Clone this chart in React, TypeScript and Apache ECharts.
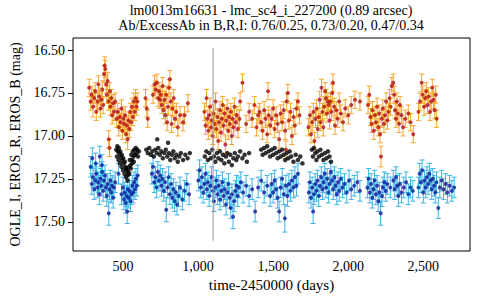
import React, { useEffect, useRef } from "react";
import * as echarts from "echarts";

// EROS_B band (red points, orange error bars): [day, mag, err?]
const bandB: number[][] = [
  [275,16.72],[285,16.80],[292,16.76],[300,16.83,0.06],[308,16.78],[315,16.74],[322,16.86],[330,16.80],[336,16.70],[342,16.77],[350,16.84],[356,16.79],[362,16.73],[368,16.82],[374,16.64],[378,16.59],[382,16.61],[388,16.70],[392,16.76],[398,16.68],[404,16.80],[405,17.02],[410,17.07],[412,16.74],[416,16.83],[422,16.78],[428,16.88],[434,16.81],[440,16.86],[448,16.80],
  [458,16.90],[465,16.86],[472,16.95],[478,16.89],[484,16.92],[490,16.84],[496,16.97],[502,16.90],[508,16.93],[514,16.88],[520,16.99],[526,16.94],[531,17.02,0.06],[536,16.91],[542,16.96],[548,16.86],[554,16.92],[560,16.83],[566,16.89],[572,16.80],[578,16.86],[584,16.78],[590,16.83],[596,16.80],
  [650,16.78],[658,16.84],[665,16.90],[700,16.76],[710,16.70],[718,16.73],[726,16.69],[734,16.78],[740,16.74],[746,16.79],[752,16.76],[758,16.82],[764,16.71],[770,16.85],[776,16.79],[782,16.88],[788,16.76],[794,16.92],[800,16.83],[806,16.72],[812,16.67],[818,16.80],[824,16.93],[830,16.84],[838,16.78],[846,16.90],[855,16.86],[865,16.95],[880,16.88],[900,16.92],[910,16.88],[932,16.81],
  [1042,16.86],[1050,16.94],[1056,16.78],[1062,16.90],[1068,16.97],[1074,16.88],[1080,16.83],[1086,16.95],[1092,16.91],[1098,17.00],[1104,16.87],[1110,16.93],[1116,16.80],[1122,16.96],[1128,16.89],[1134,17.03],[1140,16.92],[1146,16.85],[1152,16.98],[1158,16.90],[1164,16.82],[1170,16.94],[1176,16.87],[1182,17.05],[1188,16.91],[1194,16.84],[1200,16.97],[1206,16.89],[1212,16.93],[1218,16.86],[1224,17.00],[1230,16.90],[1236,16.95],[1242,16.83],[1250,16.92],[1258,16.88],[1266,16.96],[1275,16.90],[1280,16.80],[1296,16.69],[1320,16.93],[1340,16.86],[1360,16.90],[1375,16.82],[1390,16.95],[1400,16.88],[1410,16.86],[1420,16.92],[1430,16.97],[1440,16.85],[1450,16.90],[1460,16.99],[1466,16.74],[1470,16.88],[1480,16.94],
  [1490,16.90],[1500,16.84],[1510,16.96],[1520,16.88],[1530,16.93],[1540,17.02],[1550,16.87],[1560,16.92],[1570,16.85],[1580,16.97],[1585,17.08],[1590,16.80],[1598,16.75],[1605,16.91],[1615,16.86],[1625,17.00],[1635,16.89],[1645,16.94],[1655,16.84],[1665,16.80],[1675,16.88],
  [1735,16.95],[1745,16.88],[1752,16.99],[1760,16.92],[1768,16.86],[1775,17.03],[1782,16.90],[1790,16.84],[1797,16.96],[1804,16.89],[1810,16.79],[1816,16.92],[1822,16.72],[1828,16.86],[1834,16.95],[1840,16.83],[1846,16.74],[1852,16.78],[1858,16.87],[1864,16.80],[1870,16.82],[1876,16.91],[1882,16.80],[1888,16.86],[1894,16.75],[1898,16.69],[1906,16.83],[1912,16.94],[1920,16.85],[1930,16.90],[1940,16.80],[1950,16.87],[1965,16.92],[1980,16.84],[2000,16.88],[2020,16.82],[2045,16.79],[2078,16.80],
  [2132,16.82],[2140,16.76],[2148,16.89],[2155,16.93],[2162,16.85],[2170,16.97],[2178,16.88],[2185,16.92],[2192,16.83],[2200,16.95],[2206,16.87],[2212,16.99],[2218,17.12,0.06],[2224,16.90],[2230,16.84],[2238,16.93],[2245,16.88],[2252,16.80],[2260,16.91],[2268,16.86],[2275,16.78],[2282,16.83],[2290,16.71],[2300,16.69],[2306,16.76],[2312,16.85],[2318,16.90],[2324,16.80],[2330,16.87],[2338,16.93],[2345,16.82],[2355,16.88],[2365,16.95],[2380,16.90],[2400,16.87],[2415,16.92],[2433,16.99],
  [2468,16.86],[2478,16.80],[2489,16.69],[2496,16.76],[2505,16.83],[2512,16.78],[2520,16.74],[2528,16.82],[2536,16.77],[2545,16.86],[2552,16.80],[2560,16.72],[2568,16.79],[2576,16.85],[2583,16.76],[2589,16.90]
];

// OGLE_I band (black points)
const bandI: number[][] = [
  [455,17.08],[460,17.12],[462,17.06],[465,17.09],[470,17.14],[472,17.07],[475,17.10],[480,17.16],[482,17.09],[485,17.12],[490,17.18],[492,17.11],[495,17.14],[500,17.20],[502,17.13],[505,17.16],[510,17.22],[512,17.15],[515,17.18],[520,17.24],[522,17.19],[525,17.20],[530,17.26],[532,17.23],[535,17.21],[540,17.18],[542,17.22],[545,17.14],[550,17.17],[552,17.19],[555,17.11],[560,17.14],[562,17.16],[565,17.09],[570,17.12],[572,17.15],[575,17.08],[580,17.11],[585,17.07],[590,17.10],[595,17.08],[600,17.12],[606,17.09],
  [655,17.08],[665,17.10],[675,17.07],[685,17.11],[695,17.09],[705,17.12],[715,17.08],[725,17.10],[728,17.02],[735,17.07],[745,17.11],[755,17.09],[765,17.13],[775,17.10],[785,17.08],[795,17.12],[800,17.04],[805,17.10],[815,17.14],[825,17.11],[835,17.09],[845,17.13],[855,17.11],[865,17.15],[875,17.12],[885,17.10],[900,17.14],[915,17.11],[930,17.13],[945,17.10],
  [1045,17.12],[1055,17.09],[1065,17.14],[1075,17.10],[1085,17.13],[1095,17.08],[1105,17.12],[1115,17.15],[1125,17.10],[1135,17.13],[1145,17.09],[1155,17.14],[1165,17.11],[1175,17.16],[1185,17.12],[1195,17.10],[1205,17.15],[1215,17.11],[1225,17.17],[1235,17.13],[1245,17.10],[1255,17.14],[1265,17.12],[1280,17.09],[1295,17.13],[1310,17.11],[1325,17.15],[1340,17.10],
  [1420,17.08],[1430,17.11],[1440,17.07],[1450,17.10],[1460,17.06],[1470,17.09],[1480,17.12],[1490,17.08],[1500,17.11],[1510,17.07],[1520,17.10],[1530,17.13],[1540,17.09],[1550,17.12],[1560,17.08],[1570,17.11],[1580,17.14],[1590,17.10],[1600,17.13],[1610,17.09],[1620,17.12],[1635,17.15],[1650,17.11],[1665,17.14],[1680,17.12],[1695,17.16],
  [1758,17.08],[1765,17.12],[1772,17.07],[1780,17.10],[1788,17.14],[1795,17.09],[1805,17.12],[1815,17.08],[1825,17.11],[1835,17.14],[1845,17.10],[1855,17.13],[1865,17.09],[1875,17.12],[1885,17.15]
];

// EROS_R band (navy points, cyan error bars)
const bandR: number[][] = [
  [285,17.18],[292,17.28],[296,17.13],[300,17.24],[308,17.31],[315,17.26],[318,17.16],[322,17.22],[330,17.30],[336,17.27],[342,17.34],[345,17.12],[350,17.25],[356,17.29],[360,17.17],[362,17.21],[368,17.32],[374,17.26],[380,17.23],[386,17.30],[392,17.35],[398,17.28],[405,17.45,0.07],[410,17.31],[416,17.26],[422,17.33],[428,17.29],[434,17.36],[440,17.30],[448,17.27],[470,17.22],[490,17.34],[500,17.30],[506,17.37],[512,17.33],[518,17.39],[524,17.35],[528,17.44,0.07],[532,17.31],[538,17.36],[544,17.32],[550,17.38],[556,17.34],[562,17.29],[568,17.33],[574,17.27],[580,17.31],[586,17.25],[592,17.29],[598,17.23],
  [692,17.22],[700,17.18],[708,17.27],[716,17.24],[724,17.30],[732,17.21],[740,17.26],[748,17.23],[756,17.29],[764,17.25],[772,17.32],[780,17.27],[788,17.43,0.07],[796,17.30],[804,17.24],[812,17.34],[820,17.28],[828,17.36],[836,17.31],[844,17.38],[852,17.33],[860,17.40],[870,17.35],[880,17.30],[895,17.37],[910,17.32],[925,17.28],[940,17.34],
  [1002,17.26],[1010,17.20],[1018,17.30],[1026,17.24],[1034,17.33],[1042,17.28],[1050,17.22],[1058,17.31],[1066,17.27],[1074,17.35],[1082,17.29],[1090,17.24],[1098,17.32],[1106,17.38],[1114,17.30],[1122,17.26],[1130,17.34],[1138,17.29],[1146,17.37],[1154,17.32],[1162,17.27],[1170,17.35],[1178,17.31],[1186,17.40],[1194,17.33],[1202,17.28],[1210,17.36],[1218,17.42],[1226,17.34],[1233,17.47,0.07],[1240,17.38],[1248,17.32],[1256,17.29],[1264,17.35],[1272,17.30],[1285,17.27],[1300,17.33],[1320,17.29],[1340,17.35],[1360,17.31],[1380,17.44],[1400,17.30],[1420,17.26],[1440,17.33],[1460,17.29],[1480,17.35],
  [1490,17.28],[1500,17.33],[1510,17.26],[1520,17.31],[1530,17.36],[1540,17.44],[1550,17.30],[1560,17.25],[1570,17.34],[1578,17.48,0.08],[1585,17.29],[1595,17.35],[1605,17.28],[1615,17.32],[1625,17.26],[1635,17.30],[1645,17.24],[1655,17.29],[1665,17.22],
  [1738,17.33],[1745,17.27],[1752,17.36],[1760,17.30],[1766,17.44,0.07],[1772,17.34],[1780,17.28],[1788,17.32],[1796,17.26],[1804,17.35],[1812,17.29],[1820,17.24],[1828,17.31],[1836,17.27],[1844,17.22],[1852,17.30],[1860,17.25],[1868,17.33],[1876,17.28],[1884,17.21],[1892,17.26],[1900,17.31],[1908,17.24],[1916,17.29],[1924,17.34],[1932,17.27],[1940,17.32],[1950,17.25],[1962,17.30],[1975,17.28],[1990,17.33],[2005,17.26],[2020,17.31],[2040,17.29],[2060,17.27],[2078,17.32],
  [2128,17.30],[2136,17.25],[2144,17.33],[2152,17.28],[2160,17.36],[2168,17.31],[2176,17.26],[2184,17.34],[2192,17.29],[2200,17.38],[2208,17.33],[2216,17.45,0.07],[2224,17.35],[2232,17.30],[2240,17.27],[2250,17.32],[2260,17.28],[2280,17.30],[2300,17.26],[2310,17.31],[2318,17.24],[2326,17.29],[2334,17.35],[2342,17.28],[2355,17.33],[2370,17.30],[2385,17.27],[2400,17.34],[2415,17.30],[2430,17.32],
  [2468,17.30],[2476,17.22],[2484,17.27],[2492,17.20],[2500,17.33],[2508,17.26],[2516,17.30],[2524,17.24],[2532,17.28],[2540,17.22],[2548,17.26],[2556,17.31],[2564,17.25],[2572,17.29],[2580,17.33],[2588,17.27],[2600,17.42],[2610,17.30],[2622,17.26],[2635,17.31],[2648,17.28],[2660,17.33],[2675,17.29],[2690,17.32],[2705,17.30]
];

const errB = 0.05;
const errR = 0.06;

const xTicks = [500, 1000, 1500, 2000, 2500];
const yTicks = [16.5, 16.75, 17.0, 17.25, 17.5];
const markerLine = [[1100, 16.488], [1100, 17.61]];

const titleLines = [
  "lm0013m16631 - lmc_sc4_i_227200 (0.89 arcsec)",
  "Ab/ExcessAb in B,R,I: 0.76/0.25, 0.73/0.20, 0.47/0.34",
];

const FONT = "'Liberation Serif', 'Times New Roman', 'DejaVu Serif', serif";

function withErr(arr: number[][], def: number) {
  return arr.map((d) => [d[0], d[1], d.length > 2 ? d[2] : def]);
}

function barRenderer(color: string) {
  return (params: any, api: any) => {
    const x = api.value(0);
    const y = api.value(1);
    const e = api.value(2);
    const hi = api.coord([x, y - e]);
    const lo = api.coord([x, y + e]);
    const cx = hi[0];
    const cap = 2.5;
    const style = { stroke: color, lineWidth: 1 };
    return {
      type: "group",
      children: [
        { type: "line", shape: { x1: cx, y1: hi[1], x2: cx, y2: lo[1] }, style },
        { type: "line", shape: { x1: cx - cap, y1: hi[1], x2: cx + cap, y2: hi[1] }, style },
        { type: "line", shape: { x1: cx - cap, y1: lo[1], x2: cx + cap, y2: lo[1] }, style },
      ],
    };
  };
}

function fmtThousands(v: number) {
  return String(Math.round(v)).replace(/\B(?=(\d{3})+(?!\d))/g, ",");
}

export default function App() {
  const ref = useRef<HTMLDivElement>(null);
  useEffect(() => {
    if (!ref.current) return;
    const chart = echarts.init(ref.current, null, { renderer: "svg" });
    const B = withErr(bandB, errB);
    const R = withErr(bandR, errR);
    chart.setOption({
      animation: false,
      backgroundColor: "#fff",
      textStyle: { fontFamily: FONT },
      grid: {
        left: 73,
        right: 10,
        top: 38,
        bottom: 49,
        show: true,
        borderColor: "#000",
        borderWidth: 1,
        backgroundColor: "transparent",
      },
      graphic: titleLines.map((t, i) => ({
        type: "text",
        x: 271,
        y: 10 + i * 15,
        style: {
          text: t,
          fontFamily: FONT,
          fontSize: 14,
          fill: "#000",
          textAlign: "center",
          textVerticalAlign: "middle",
        },
      })),
      xAxis: {
        type: "value",
        min: 167,
        max: 2811,
        axisLine: { show: false },
        axisTick: { show: false },
        splitLine: { show: false },
        axisLabel: {
          customValues: xTicks,
          formatter: (v: number) => fmtThousands(v),
          fontFamily: FONT,
          fontSize: 14,
          color: "#000",
          margin: 8,
        },
        name: "time-2450000 (days)",
        nameLocation: "middle",
        nameGap: 26,
        nameTextStyle: { fontFamily: FONT, fontSize: 15, color: "#000" },
      },
      yAxis: {
        type: "value",
        inverse: true,
        min: 16.43,
        max: 17.67,
        axisLine: { show: false },
        axisTick: {
          show: true,
          customValues: yTicks,
          length: 5,
          lineStyle: { color: "#000" },
        },
        splitLine: { show: false },
        axisLabel: {
          customValues: yTicks,
          formatter: (v: number) => v.toFixed(2),
          fontFamily: FONT,
          fontSize: 14,
          color: "#000",
          margin: 8,
        },
        name: "OGLE_I, EROS_R, EROS_B (mag)",
        nameLocation: "middle",
        nameGap: 50,
        nameTextStyle: { fontFamily: FONT, fontSize: 14, color: "#000" },
      },
      series: [
        {
          type: "custom",
          renderItem: barRenderer("#3db3e6"),
          data: R,
          encode: { x: 0, y: 1 },
          silent: true,
          z: 1,
        },
        {
          type: "scatter",
          data: R.map((d) => [d[0], d[1]]),
          symbolSize: 4,
          itemStyle: { color: "#0a1a9a" },
          silent: true,
          z: 2,
        },
        {
          type: "custom",
          renderItem: barRenderer("#f7a530"),
          data: B,
          encode: { x: 0, y: 1 },
          silent: true,
          z: 3,
        },
        {
          type: "scatter",
          data: B.map((d) => [d[0], d[1]]),
          symbolSize: 4,
          itemStyle: { color: "#b01010" },
          silent: true,
          z: 4,
        },
        {
          type: "scatter",
          data: bandI,
          symbolSize: 4.5,
          itemStyle: { color: "#000" },
          silent: true,
          z: 5,
        },
        {
          type: "line",
          data: markerLine,
          symbol: "none",
          lineStyle: { color: "#999", width: 1 },
          silent: true,
          z: 6,
        },
      ],
    });
    return () => chart.dispose();
  }, []);
  return (
    <div
      ref={ref}
      style={{ position: "absolute", left: 0, top: 0, width: 480, height: 300 }}
    />
  );
}
